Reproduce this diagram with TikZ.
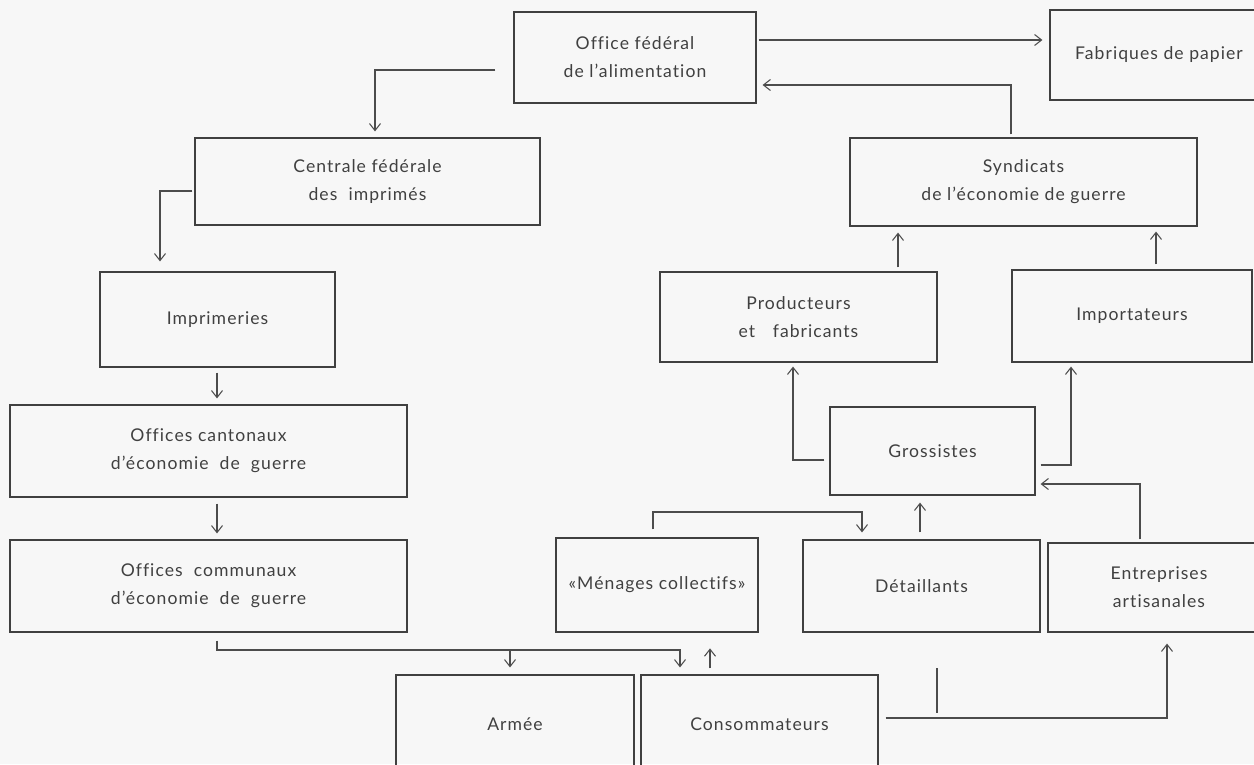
\documentclass[tikz,border=0pt]{standalone}
\usepackage{fontspec}
\setmainfont{Lato}[LetterSpace=6,Ligatures=NoCommon]
\usepackage{tikz}
\usetikzlibrary{arrows.meta}
\tikzstyle{box}=[
        draw=black!75,
        line width=0.7pt,
        inner sep=0pt,
        align=center,
        text=black!75,
        font=\fontsize{10}{16}\selectfont
]
\tikzstyle{link}=[
        draw=black!70,
        line width=0.6pt,
        -{Straight Barb[length=1.4mm,width=2.2mm]}
]
\tikzstyle{plain}=[
        draw=black!70,
        line width=0.6pt
]

\begin{document}
\begin{tikzpicture}[x=0.02cm,y=-0.02cm]
                        \clip (0,0) rectangle (1254,764);
                        \fill[black!3] (0,0) rectangle (1254,764);

                        \node[box, minimum width=4.84cm, minimum height=1.82cm] (office) at (635,57.5) {Office fédéral\\de l'alimentation};
                        \node[box, minimum width=4.36cm, minimum height=1.8cm] (fabriques) at (1159,55) {Fabriques de papier};
                        \node[box, minimum width=6.9cm, minimum height=1.74cm] (centrale) at (367.5,181.5) {Centrale fédérale\\des\ \ imprimés};
                        \node[box, minimum width=6.94cm, minimum height=1.76cm] (syndicats) at (1023.5,182) {Syndicats\\de l'économie de guerre};
                        \node[box, minimum width=4.7cm, minimum height=1.9cm] (imprimeries) at (217.5,319.5) {Imprimeries};
                        \node[box, minimum width=5.54cm, minimum height=1.8cm] (producteurs) at (798.5,317) {Producteurs\\et\hspace{1em}fabricants};
                        \node[box, minimum width=4.8cm, minimum height=1.84cm] (importateurs) at (1132,316) {Importateurs};
                        \node[box, minimum width=7.94cm, minimum height=1.84cm] (cantonaux) at (208.5,451) {Offices cantonaux\\d'économie\ \ de\ \ guerre};
                        \node[box, minimum width=4.1cm, minimum height=1.76cm] (grossistes) at (932.5,451) {Grossistes};
                        \node[box, minimum width=7.94cm, minimum height=1.84cm] (communaux) at (208.5,586) {Offices\ \ communaux\\d'économie\ \ de\ \ guerre};
                        \node[box, minimum width=4.04cm, minimum height=1.88cm] (menages) at (657,585) {«Ménages collectifs»};
                        \node[box, minimum width=4.74cm, minimum height=1.84cm] (detaillants) at (921.5,586) {Détaillants};
                        \node[box, minimum width=4.44cm, minimum height=1.78cm] (entreprises) at (1159,587.5) {Entreprises\\artisanales};
                        \node[box, minimum width=4.76cm, minimum height=1.96cm] (armee) at (515,724) {Armée};
                        \node[box, minimum width=4.74cm, minimum height=1.96cm] (consommateurs) at (759.5,724) {Consommateurs};

                        \coordinate (fork) at (680,650);

                        \draw[link, shorten <=0.4mm, shorten >=1.4mm] (office.east |- 0,40) -- (fabriques.west |- 0,40);
                        \draw[link, shorten <=0.6mm, shorten >=1.2mm] (1011,0 |- syndicats.north) |- (office.east |- 0,85);
                        \draw[link, shorten <=3.6mm, shorten >=1.2mm] (office.west |- 0,70) -| (375,0 |- centrale.north);
                        \draw[link, shorten <=0.4mm, shorten >=2mm] (centrale.west |- 0,191) -| (160,0 |- imprimeries.north);
                        \draw[link, shorten <=1mm, shorten >=1.2mm] (217,0 |- imprimeries.south) -- (217,0 |- cantonaux.north);
                        \draw[link, shorten <=1.2mm, shorten >=1.2mm] (217,0 |- cantonaux.south) -- (217,0 |- communaux.north);
                        \draw[link, shorten <=1.6mm, shorten >=1.4mm] (217,0 |- communaux.south) |- (fork) -- (fork |- consommateurs.north);
                        \draw[link, shorten >=1.4mm] (510,0 |- fork) -- (510,0 |- armee.north);
                        \draw[link, shorten <=1.2mm] (710,0 |- consommateurs.north) -- ++(0,-26);
                        \draw[link, shorten <=1.4mm, shorten >=2.2mm] (consommateurs.east |- 0,718) -| (1167,0 |- entreprises.south);
                        \draw[plain] (937,668) -- (937,713);
                        \draw[link, shorten <=1.6mm, shorten >=1.4mm] (653,0 |- menages.north) |- (862,512) -- (862,0 |- detaillants.north);
                        \draw[link, shorten <=1.4mm, shorten >=1.4mm] (920,0 |- detaillants.north) -- (920,0 |- grossistes.south);
                        \draw[link, shorten <=0.6mm, shorten >=1mm] (1140,0 |- entreprises.north) |- (grossistes.east |- 0,484);
                        \draw[link, shorten <=1mm, shorten >=0.8mm] (grossistes.east |- 0,465) -| (1071,0 |- importateurs.south);
                        \draw[link, shorten <=1mm, shorten >=0.8mm] (grossistes.west |- 0,460) -| (793,0 |- producteurs.south);
                        \draw[link, shorten <=0.8mm, shorten >=1.2mm] (898,0 |- producteurs.north) -- (898,0 |- syndicats.south);
                        \draw[link, shorten <=1mm, shorten >=1mm] (1156,0 |- importateurs.north) -- (1156,0 |- syndicats.south);

                    \end{tikzpicture}
\end{document}
